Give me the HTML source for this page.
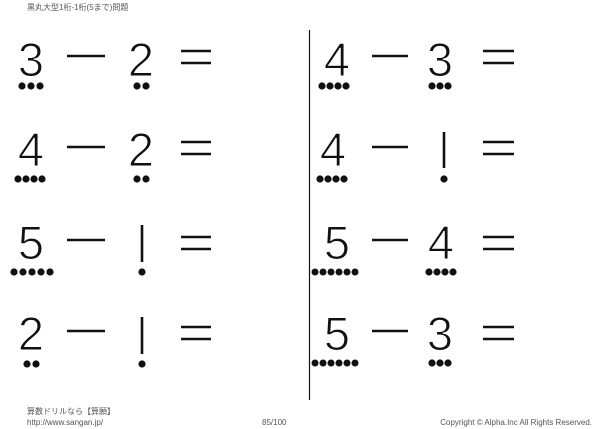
<!DOCTYPE html>
<html><head><meta charset="utf-8"><style>
html,body{margin:0;padding:0;background:#fff;}
svg{display:block;}
</style></head><body>
<svg width="600" height="429" viewBox="0 0 600 429" xmlns="http://www.w3.org/2000/svg">
<rect width="600" height="429" fill="#fff"/>
<g font-family="'Liberation Sans','Noto Sans CJK JP',sans-serif" fill="#555">
<text x="27" y="10" font-size="8">黒丸大型1桁-1桁(5まで)問題</text>
<text x="27" y="414" font-size="8">算数ドリルなら【算願】</text>
<text x="27" y="425" font-size="8">http://www.sangan.jp/</text>
<text x="262" y="425" font-size="8">85/100</text>
<text x="592" y="425" font-size="8" text-anchor="end">Copyright © Alpha.Inc All Rights Reserved.</text>
</g>
<line x1="309.5" y1="30" x2="309.5" y2="400" stroke="#111" stroke-width="1.2"/>
<g font-family="'Liberation Sans',sans-serif" font-size="47" fill="#111" stroke="#fff" stroke-width="1.1" text-anchor="middle">
<text x="31" y="76">3</text><text x="141" y="76">2</text>
<text x="31" y="166">4</text><text x="141" y="166">2</text>
<text x="31" y="259">5</text>
<text x="31" y="350">2</text>
<text x="337" y="76">4</text><text x="440" y="76">3</text>
<text x="333" y="166">4</text>
<text x="337" y="259">5</text><text x="441" y="259">4</text>
<text x="337" y="350">5</text><text x="440" y="350">3</text>
</g>
<g stroke="#111" stroke-width="2.6">
<line x1="67" y1="56" x2="105" y2="56"/><line x1="67" y1="147" x2="105" y2="147"/>
<line x1="67" y1="240" x2="105" y2="240"/><line x1="67" y1="331" x2="105" y2="331"/>
<line x1="372" y1="56" x2="408" y2="56"/><line x1="372" y1="147" x2="408" y2="147"/>
<line x1="372" y1="240" x2="408" y2="240"/><line x1="372" y1="331" x2="408" y2="331"/>
<line x1="181" y1="51" x2="211" y2="51"/><line x1="181" y1="63" x2="211" y2="63"/>
<line x1="181" y1="142" x2="211" y2="142"/><line x1="181" y1="154" x2="211" y2="154"/>
<line x1="181" y1="237" x2="211" y2="237"/><line x1="181" y1="249" x2="211" y2="249"/>
<line x1="181" y1="327" x2="211" y2="327"/><line x1="181" y1="339" x2="211" y2="339"/>
<line x1="483" y1="51" x2="514" y2="51"/><line x1="483" y1="63" x2="514" y2="63"/>
<line x1="483" y1="142" x2="514" y2="142"/><line x1="483" y1="154" x2="514" y2="154"/>
<line x1="483" y1="237" x2="514" y2="237"/><line x1="483" y1="249" x2="514" y2="249"/>
<line x1="483" y1="327" x2="514" y2="327"/><line x1="483" y1="339" x2="514" y2="339"/>
<line x1="142" y1="225" x2="142" y2="262"/>
<line x1="142" y1="317" x2="142" y2="354"/>
<line x1="444" y1="132" x2="444" y2="168"/>
</g>
<g fill="#111">
<circle cx="22" cy="86" r="3.6"/><circle cx="31" cy="86" r="3.6"/><circle cx="40" cy="86" r="3.6"/>
<circle cx="137" cy="86" r="3.6"/><circle cx="146" cy="86" r="3.6"/>
<circle cx="322" cy="86" r="3.6"/><circle cx="330" cy="86" r="3.6"/><circle cx="338" cy="86" r="3.6"/><circle cx="346" cy="86" r="3.6"/>
<circle cx="432" cy="86" r="3.6"/><circle cx="440" cy="86" r="3.6"/><circle cx="448" cy="86" r="3.6"/>
<circle cx="18" cy="179" r="3.6"/><circle cx="26" cy="179" r="3.6"/><circle cx="34" cy="179" r="3.6"/><circle cx="42" cy="179" r="3.6"/>
<circle cx="137" cy="179" r="3.6"/><circle cx="146" cy="179" r="3.6"/>
<circle cx="320" cy="179" r="3.6"/><circle cx="328" cy="179" r="3.6"/><circle cx="336" cy="179" r="3.6"/><circle cx="344" cy="179" r="3.6"/>
<circle cx="444" cy="179" r="3.6"/>
<circle cx="14" cy="272" r="3.6"/><circle cx="23" cy="272" r="3.6"/><circle cx="32" cy="272" r="3.6"/><circle cx="41" cy="272" r="3.6"/><circle cx="50" cy="272" r="3.6"/>
<circle cx="142" cy="272" r="3.6"/>
<circle cx="315" cy="272" r="3.5"/><circle cx="323" cy="272" r="3.5"/><circle cx="331" cy="272" r="3.5"/><circle cx="339" cy="272" r="3.5"/><circle cx="347" cy="272" r="3.5"/><circle cx="355" cy="272" r="3.5"/>
<circle cx="429" cy="272" r="3.6"/><circle cx="437" cy="272" r="3.6"/><circle cx="445" cy="272" r="3.6"/><circle cx="453" cy="272" r="3.6"/>
<circle cx="27" cy="364" r="3.6"/><circle cx="36" cy="364" r="3.6"/>
<circle cx="142" cy="364" r="3.6"/>
<circle cx="315" cy="363" r="3.5"/><circle cx="323" cy="363" r="3.5"/><circle cx="331" cy="363" r="3.5"/><circle cx="339" cy="363" r="3.5"/><circle cx="347" cy="363" r="3.5"/><circle cx="355" cy="363" r="3.5"/>
<circle cx="432" cy="363" r="3.6"/><circle cx="440" cy="363" r="3.6"/><circle cx="448" cy="363" r="3.6"/>
</g>
</svg>
</body></html>
